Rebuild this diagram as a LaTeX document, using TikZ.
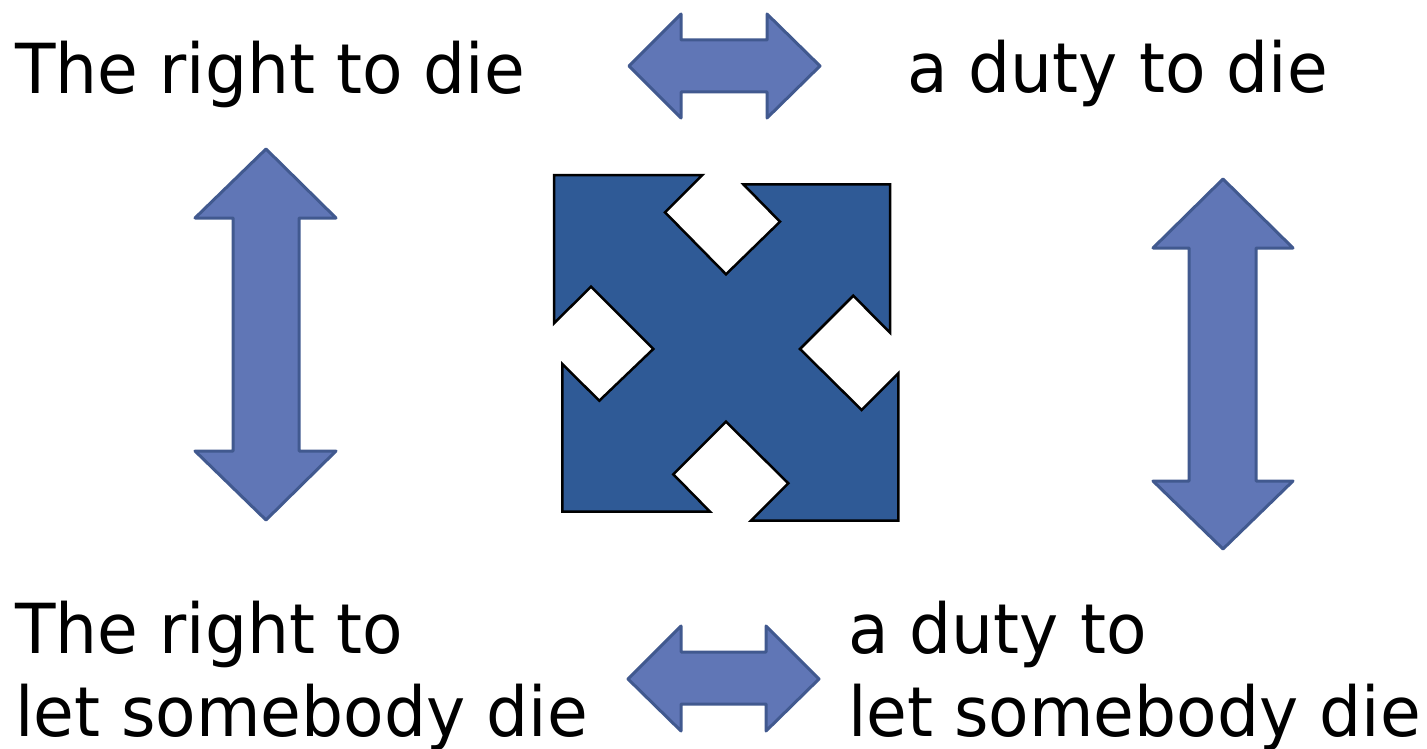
\documentclass[tikz,border=0pt]{standalone}
\usepackage{fontspec}
\setmainfont{DejaVu Sans}[FakeStretch=0.96]
\definecolor{arrowfill}{HTML}{6076B6}
\definecolor{arrowline}{HTML}{41598F}
\definecolor{crossfill}{HTML}{2F5A96}
\tikzset{
  blockarrow/.style={fill=arrowfill, draw=arrowline, line width=3pt, line join=round},
  crossshape/.style={fill=crossfill, draw=black, line width=2.5pt, line join=miter},
  label/.style={inner sep=0pt, anchor=base west, align=left, font=\fontsize{69}{83}\selectfont}
}
\begin{document}
\begin{tikzpicture}[x=1pt,y=-1pt]
\useasboundingbox (0,0) rectangle (1427,749);
% labels (base anchor = baseline of the last line)
\node[label] (rd) at (15,94) {The right to die};
\node[label] (dd) at (907,93) {a duty to die};
\node[label] (rl) at (15,736) {The right to\\let somebody die};
\node[label] (dl) at (848,736) {a duty to\\let somebody die};
% horizontal double arrows
\draw[blockarrow] (629,66) -- (681,14) -- (681,40) -- (767,40) -- (767,14) -- (820,66)
  -- (767,118) -- (767,92) -- (681,92) -- (681,118) -- cycle;
\draw[blockarrow] (628,679) -- (681,626) -- (681,652) -- (766,652) -- (766,626) -- (819,679)
  -- (766,731) -- (766,704) -- (681,704) -- (681,731) -- cycle;
% vertical double arrows
\draw[blockarrow] (266,149) -- (336,218) -- (299,218) -- (299,451) -- (336,451) -- (266,520)
  -- (195,451) -- (233,451) -- (233,218) -- (195,218) -- cycle;
\draw[blockarrow] (1223,179) -- (1293,248) -- (1256,248) -- (1256,481) -- (1293,481) -- (1223,549)
  -- (1153,481) -- (1189,481) -- (1189,248) -- (1153,248) -- cycle;
% central quad arrow
\draw[crossshape] (554,175) -- (702.3,175) -- (665,212.3) -- (726,274.3) -- (780,221.7)
  -- (743.3,184.3) -- (890,184.3) -- (890,332.7) -- (853.3,295.7) -- (800,349)
  -- (861.7,410) -- (898.3,373.3) -- (898.3,520.7) -- (751,520.7) -- (788.3,483.3)
  -- (726,421.7) -- (673.3,474.3) -- (710,511.7) -- (562.3,511.7) -- (562.3,364)
  -- (599.3,400.7) -- (653.3,349) -- (591,286.7) -- (554,323.3) -- cycle;
\end{tikzpicture}
\end{document}
